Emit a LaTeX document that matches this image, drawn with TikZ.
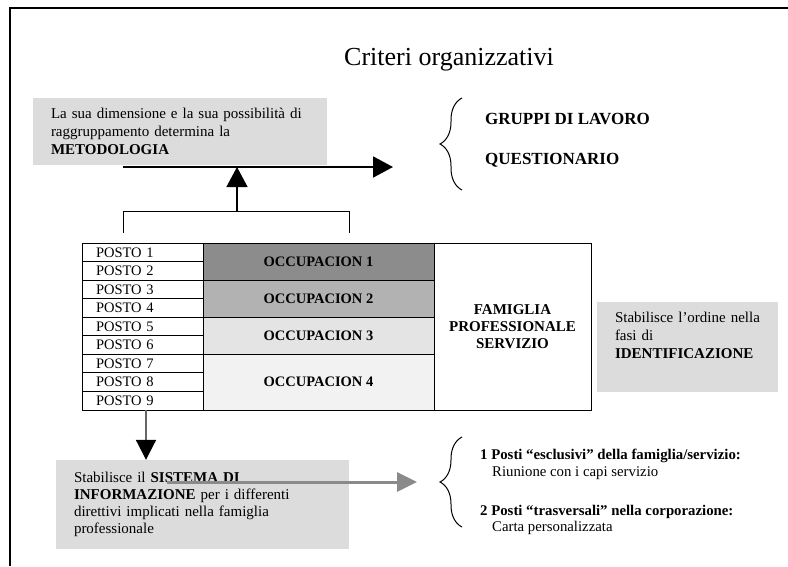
\documentclass[tikz,border=0pt]{standalone}
\usepackage{fontspec}
\setmainfont{Liberation Serif}
\usetikzlibrary{arrows.meta,decorations.pathreplacing}
\definecolor{boxgray}{HTML}{DCDCDC}
\definecolor{occone}{HTML}{8C8C8C}
\definecolor{occtwo}{HTML}{B2B2B2}
\definecolor{occthree}{HTML}{E4E4E4}
\definecolor{occfour}{HTML}{F2F2F2}
\definecolor{arrowgray}{HTML}{8A8A8A}
\tikzset{
  txt/.style={font=\fontsize{15}{18}\selectfont},
  graybox/.style={txt, fill=boxgray, align=left, inner xsep=18pt, inner ysep=0pt},
  postocell/.style={draw, line width=1pt, font=\fontsize{14.5}{16}\selectfont, minimum height=18.56pt, text width=93pt, inner xsep=14pt, inner ysep=0pt, align=left},
  occcell/.style={draw, line width=1pt, font=\bfseries\fontsize{14.5}{16}\selectfont, minimum width=231pt, inner sep=0pt},
  bigarrow/.style={line width=2pt, -{Triangle[length=20pt,width=21pt]}},
  curly/.style={decorate, decoration={brace, amplitude=22pt}, line width=1pt},
  plain/.style={anchor=base west, inner sep=0pt, font=\fontsize{14.8}{17}\selectfont},
  boldplain/.style={plain, font=\bfseries\fontsize{14.8}{17}\selectfont},
}
\begin{document}
\begin{tikzpicture}[x=1pt,y=-1pt]
  \useasboundingbox (0,0) rectangle (788,566);
  \draw[line width=2pt] (10,566) -- (10,8) -- (788,8);
  \node[anchor=base, font=\fontsize{26}{30}\selectfont] (title) at (449,65) {Criteri organizzativi};

  \node[graybox, text width=258pt, minimum height=67pt] (metodo) at (180,131.5) {La sua dimensione e la sua possibilità di\\ raggruppamento determina la\\ \textbf{METODOLOGIA}};
  \node[graybox, text width=145pt, minimum height=90pt] (ident) at (687.5,347) {Stabilisce l'ordine nella\\ fasi di\\ \textbf{IDENTIFICAZIONE}\\ \strut};
  \node[graybox, text width=257pt, minimum height=89pt, font=\fontsize{15}{17}\selectfont] (sistema) at (202.5,504.5) {Stabilisce il \textbf{SISTEMA DI}\\ \textbf{INFORMAZIONE} per i differenti\\ direttivi implicati nella famiglia\\ professionale};

  \foreach \i in {1,...,9}
    \node[postocell] (p\i) at (142.5,{243+18.556*(\i-0.5)}) {POSTO \i};
  \node[occcell, fill=occone, minimum height=37.1pt] (occ1) at (318.5,261.6) {OCCUPACION 1};
  \node[occcell, fill=occtwo, minimum height=37.1pt] (occ2) at (318.5,298.7) {OCCUPACION 2};
  \node[occcell, fill=occthree, minimum height=37.1pt] (occ3) at (318.5,335.8) {OCCUPACION 3};
  \node[occcell, fill=occfour, minimum height=55.7pt] (occ4) at (318.5,382.2) {OCCUPACION 4};
  \node[draw, line width=1pt, minimum width=157pt, minimum height=167pt, align=center, font=\bfseries\fontsize{15}{17}\selectfont] (fam) at (512.5,326.5) {FAMIGLIA\\ PROFESSIONALE\\ SERVIZIO};

  \coordinate (brL) at (123,233);
  \coordinate (brR) at (349,233);
  \coordinate (brM) at (237,211);
  \coordinate (metL) at (123,167);
  \coordinate (metR) at (393,167);
  \draw[line width=1pt] (brL) -- (brL |- brM) -- (brR |- brM) -- (brR);
  \draw[bigarrow] (metL) -- (metR);
  \draw[bigarrow, line width=1.5pt] (brM) -- (brM |- metL);

  \coordinate (topA) at (462,190);
  \coordinate (topB) at (462,98);
  \draw[curly] (topA) -- (topB);
  \node[boldplain, font=\bfseries\fontsize{17}{20}\selectfont] (gruppi) at (485,124) {GRUPPI DI LAVORO};
  \node[boldplain, font=\bfseries\fontsize{17}{20}\selectfont] (quest) at (485,164) {QUESTIONARIO};

  \coordinate (dnTop) at (146,410);
  \draw[line width=2pt, black!60, -{Triangle[length=20pt,width=20pt,color=black]}] (dnTop) -- (dnTop |- sistema.north);

  \coordinate (infL) at (167,482);
  \coordinate (infR) at (417,482);
  \draw[line width=3pt, arrowgray, -{Triangle[length=20pt,width=19pt]}] (infL) -- (infR);

  \coordinate (botA) at (462,527);
  \coordinate (botB) at (462,437);
  \draw[curly] (botA) -- (botB);
  \node[boldplain] (esc) at (480,459) {1 Posti “esclusivi” della famiglia/servizio:};
  \node[plain] (riun) at (492,476) {Riunione con i capi servizio};
  \node[boldplain] (tras) at (480,515) {2 Posti “trasversali” nella corporazione:};
  \node[plain] (carta) at (492,531) {Carta personalizzata};
\end{tikzpicture}
\end{document}
